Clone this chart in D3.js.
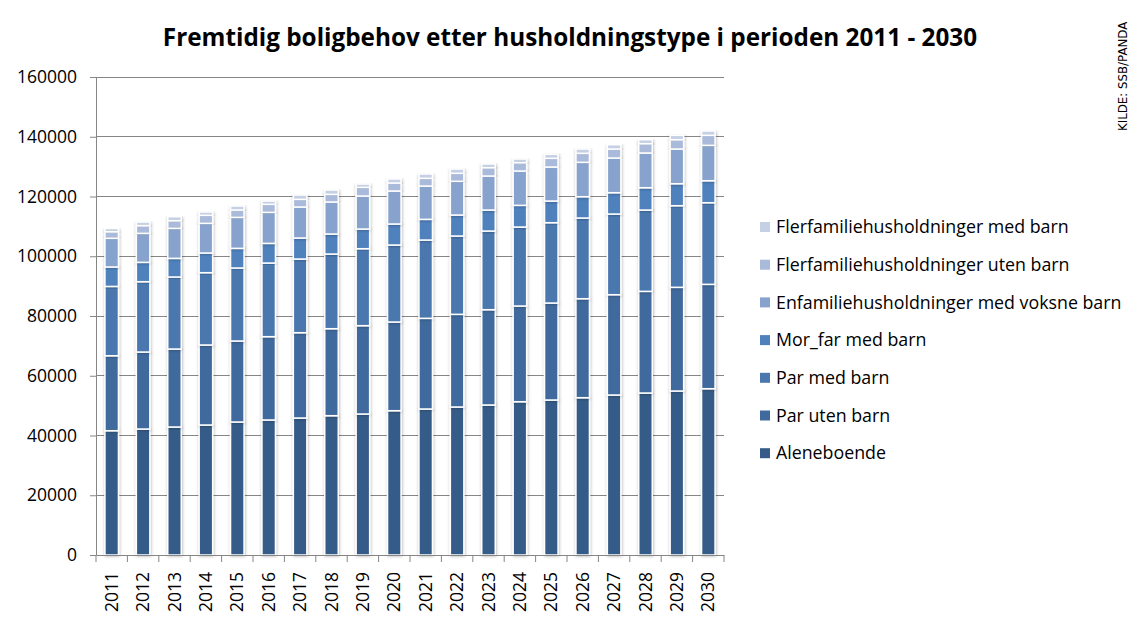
<!DOCTYPE html>
<html><head><meta charset="utf-8">
<script src="https://cdn.jsdelivr.net/npm/d3@7"></script>
<style>body{margin:0;background:#fff;} svg{display:block;}</style>
</head><body>
<svg id="c" width="1147" height="625"></svg>
<script>
const years = ["2011","2012","2013","2014","2015","2016","2017","2018","2019","2020","2021","2022","2023","2024","2025","2026","2027","2028","2029","2030"];
const seriesNames = ["Aleneboende","Par uten barn","Par med barn","Mor_far med barn","Enfamiliehusholdninger med voksne barn","Flerfamiliehusholdninger uten barn","Flerfamiliehusholdninger med barn"];
const aleneboende = [41600,42170,42840,43510,44520,45190,45850,46630,47190,48300,48870,49540,50210,51310,51880,52650,53550,54220,54890,55660];
const parUtenBarn = [25100,25770,26110,26780,27110,27890,28560,29120,29570,29690,30350,31020,31900,32030,32460,33140,33580,34030,34710,34940];
const parMedBarn = [23200,23540,24100,24210,24430,24650,24660,24990,25770,25770,26210,26210,26330,26440,26890,27000,27000,27220,27320,27320];
const morFarMedBarn = [6500,6480,6240,6580,6580,6580,7030,6700,6580,7030,6920,7030,7030,7260,7250,7140,7140,7470,7360,7360];
const enfamilieVoksneBarn = [9600,9700,10040,9930,10370,10380,10380,10710,11050,11040,11150,11280,11380,11480,11380,11500,11610,11610,11610,11840];
const flerfamilieUtenBarn = [2200,2570,2570,2680,2460,2680,2560,2560,2900,2680,2580,2670,2790,2800,2910,3010,3010,3130,3120,3350];
const flerfamilieMedBarn = [1100,1220,1340,1110,1340,1110,1450,1450,1110,1340,1440,1440,1230,1220,1340,1450,1440,1330,1460,1440];
const yTicks = [0,20000,40000,60000,80000,100000,120000,140000,160000];
const colors = ["#365b88","#406a9d","#4a77ae","#4f81bd","#87a2cc","#aabada","#c6d0e5"];
const title = "Fremtidig boligbehov etter husholdningstype i perioden 2011 - 2030";
const source = "KILDE: SSB/PANDA";

const seriesValues = [aleneboende,parUtenBarn,parMedBarn,morFarMedBarn,enfamilieVoksneBarn,flerfamilieUtenBarn,flerfamilieMedBarn];
const rows = years.map((y,i)=>{const r={year:y}; seriesNames.forEach((n,k)=>r[n]=seriesValues[k][i]); return r;});
const stack = d3.stack().keys(seriesNames)(rows);

const svg = d3.select("#c");
const font = "'Open Sans', sans-serif";
const L=96, R=724, T=77, B=555;
const x = d3.scaleBand().domain(years).range([L,R]).paddingInner(0.57).paddingOuter(0.285);
const y = d3.scaleLinear().domain([0,160000]).range([B,T]);

const defs = svg.append("defs");
const f = defs.append("filter").attr("id","sh").attr("x","-50%").attr("y","-10%").attr("width","200%").attr("height","120%");
f.append("feDropShadow").attr("dx",0.5).attr("dy",0.5).attr("stdDeviation",1.8).attr("flood-color","#000").attr("flood-opacity",0.3);

// gridlines
svg.append("g").selectAll("line").data(yTicks.filter(d=>d>0)).join("line")
  .attr("x1",L).attr("x2",R).attr("y1",d=>y(d)).attr("y2",d=>y(d))
  .attr("stroke","#868686").attr("stroke-width",1).attr("shape-rendering","crispEdges");

// bars
const g = svg.append("g");
stack.forEach((s,k)=>{
  g.append("g").selectAll("rect").data(s).join("rect")
    .attr("x",d=>x(d.data.year)).attr("width",x.bandwidth())
    .attr("y",d=>y(d[1])).attr("height",d=>y(d[0])-y(d[1]))
    .attr("fill",colors[k]).attr("stroke","#fff").attr("stroke-width",1.5)
    .attr("filter","url(#sh)");
});

// y axis
const ya = svg.append("g").attr("transform",`translate(${L},0)`)
  .call(d3.axisLeft(y).tickValues(yTicks).tickSize(6).tickSizeOuter(0).tickPadding(13).tickFormat(d3.format("d")));
ya.select(".domain").attr("stroke","#868686");
ya.selectAll(".tick line").attr("stroke","#868686");
ya.selectAll("text").attr("font-family",font).attr("font-size",17.5).attr("fill","#000");

// x axis
const xa = svg.append("g").attr("transform",`translate(0,${B})`)
  .call(d3.axisBottom(x).tickSize(0).tickSizeOuter(0));
xa.select(".domain").attr("stroke","#868686");
xa.selectAll(".tick text").attr("font-family",font).attr("font-size",17.5).attr("fill","#000")
  .attr("transform","rotate(-90)").attr("text-anchor","end").attr("x",-17).attr("y",0).attr("dy","0.35em");
// boundary ticks
const bounds = years.map(yv=>x(yv)-x.step()*x.paddingInner()/2).concat([R]);
xa.append("g").selectAll("line").data(bounds).join("line")
  .attr("x1",d=>d).attr("x2",d=>d).attr("y1",0).attr("y2",7).attr("stroke","#868686");

// title
svg.append("text").attr("x",570).attr("y",46).attr("text-anchor","middle")
  .attr("font-family",font).attr("font-weight","bold").attr("font-size",24.3).attr("fill","#000").text(title);

// legend
const lg = svg.append("g");
const legendOrder = seriesNames.map((n,k)=>({n,k})).reverse();
lg.selectAll("g").data(legendOrder).join("g")
  .attr("transform",(d,i)=>`translate(760,${227+i*37.7})`)
  .each(function(d){
    const s=d3.select(this);
    s.append("rect").attr("x",0).attr("y",-5).attr("width",10).attr("height",10).attr("fill",colors[d.k]);
    s.append("text").attr("x",16).attr("y",0).attr("dy","0.35em").attr("font-family",font).attr("font-size",17.8).attr("fill","#000").text(d.n);
  });

// source
svg.append("text").attr("transform","translate(1127,131) rotate(-90)")
  .attr("font-family","'DejaVu Sans', sans-serif").attr("font-size",11.8).attr("fill","#000").text(source);
</script>
</body></html>
